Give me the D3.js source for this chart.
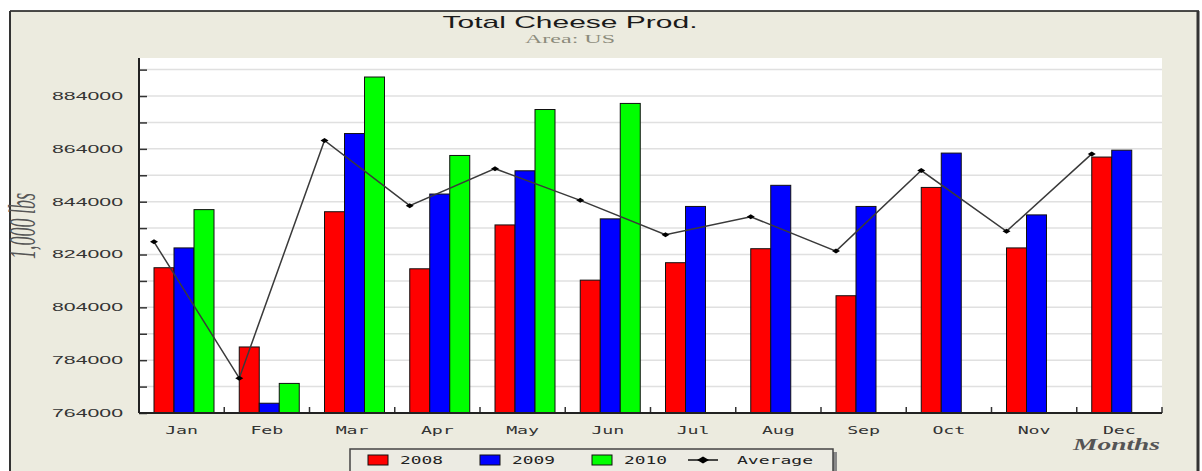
<!DOCTYPE html>
<html>
<head>
<meta charset="utf-8">
<script src="https://cdn.jsdelivr.net/npm/d3@7/dist/d3.min.js"></script>
<style>
  body { margin: 0; background: #fff; }
  #chart { width: 1202px; height: 471px; }
</style>
</head>
<body>
<div id="chart"></div>
<script>
var months = ["Jan", "Feb", "Mar", "Apr", "May", "Jun", "Jul", "Aug", "Sep", "Oct", "Nov", "Dec"];
var years = ["2008", "2009", "2010"];
var y2008 = [819000, 789000, 840200, 818600, 835200, 814300, 820900, 826200, 808400, 849400, 826500, 860900];
var y2009 = [826500, 767700, 869800, 846900, 855700, 837500, 842200, 850200, 842200, 862400, 839000, 863500];
var y2010 = [841000, 775200, 891200, 861500, 878900, 881200, null, null, null, null, null, null];
var average = [828800, 777200, 867200, 842500, 856500, 844500, 831500, 838300, 825300, 855800, 832800, 862100];
var yTicks = [764000, 774000, 784000, 794000, 804000, 814000, 824000, 834000, 844000, 854000, 864000, 874000, 884000, 894000];
var colors = {"2008": "#ff0000", "2009": "#0000ff", "2010": "#00ff00"};

var W = 1202, H = 471;
var margin = {top: 58, right: 40, bottom: 58, left: 139};
var width = 1162 - margin.left;
var height = 413 - margin.top;

var svg = d3.select("#chart").append("svg")
    .attr("width", W)
    .attr("height", H);

// beige frame
svg.append("rect")
    .attr("x", 10).attr("y", 11)
    .attr("width", 1188).attr("height", H)
    .attr("fill", "#ecebdf");
svg.append("line").attr("x1", 10).attr("x2", 1199).attr("y1", 11).attr("y2", 11)
    .attr("stroke", "#111").attr("stroke-width", 1.5);
svg.append("line").attr("x1", 10).attr("x2", 10).attr("y1", 11).attr("y2", H)
    .attr("stroke", "#333").attr("stroke-width", 2);
svg.append("line").attr("x1", 1198).attr("x2", 1198).attr("y1", 11).attr("y2", H)
    .attr("stroke", "#333").attr("stroke-width", 3);

// titles
svg.append("text")
    .attr("x", 570).attr("y", 28)
    .attr("text-anchor", "middle")
    .attr("textLength", 255).attr("lengthAdjust", "spacingAndGlyphs")
    .style("font-family", "Liberation Sans, Arial, sans-serif")
    .style("font-size", "17px")
    .attr("fill", "#1a1a1a")
    .text("Total Cheese Prod.");
svg.append("text")
    .attr("x", 570).attr("y", 43)
    .attr("text-anchor", "middle")
    .attr("textLength", 90).attr("lengthAdjust", "spacingAndGlyphs")
    .style("font-family", "Liberation Serif, serif")
    .style("font-size", "12px")
    .attr("fill", "#8c8c7c")
    .text("Area: US");

var x = d3.scaleBand()
    .domain(months)
    .range([0, width]);
var x1 = d3.scaleBand()
    .domain(years)
    .range([15, 75]);
var y = d3.scaleLinear()
    .domain([764000, 898400])
    .range([height, 0]);

var g = svg.append("g")
    .attr("transform", "translate(" + margin.left + "," + margin.top + ")");

g.append("rect")
    .attr("width", width).attr("height", height)
    .attr("fill", "#fff");

// grid
g.selectAll(".grid")
    .data(yTicks.slice(1))
    .enter().append("line")
    .attr("class", "grid")
    .attr("x1", 0).attr("x2", width)
    .attr("y1", function(d) { return y(d); })
    .attr("y2", function(d) { return y(d); })
    .attr("stroke", "#e0e0e0")
    .attr("stroke-width", 1.5);

// bars
var series = [
  {year: "2008", values: y2008},
  {year: "2009", values: y2009},
  {year: "2010", values: y2010}
];
series.forEach(function(s) {
  g.selectAll(".bar-" + s.year)
      .data(s.values.map(function(v, i) { return {m: months[i], v: v}; })
                    .filter(function(d) { return d.v != null; }))
      .enter().append("rect")
      .attr("class", "bar-" + s.year)
      .attr("x", function(d) { return x(d.m) + x1(s.year); })
      .attr("y", function(d) { return y(d.v); })
      .attr("width", x1.bandwidth())
      .attr("height", function(d) { return height - y(d.v); })
      .attr("fill", colors[s.year])
      .attr("stroke", "#111")
      .attr("stroke-width", 1);
});

// average line
var avgData = average.map(function(v, i) { return {m: months[i], v: v}; });
var line = d3.line()
    .x(function(d) { return x(d.m) + x1("2008"); })
    .y(function(d) { return y(d.v); });
g.append("path")
    .datum(avgData)
    .attr("d", line)
    .attr("fill", "none")
    .attr("stroke", "#3a3a3a")
    .attr("stroke-width", 1.5);
g.selectAll(".avg-pt")
    .data(avgData)
    .enter().append("path")
    .attr("class", "avg-pt")
    .attr("transform", function(d) { return "translate(" + (x(d.m) + x1("2008")) + "," + y(d.v) + ")"; })
    .attr("d", "M-4,0L0,-2.5L4,0L0,2.5Z")
    .attr("fill", "#000");

// y axis
var axisY = d3.axisRight(y)
    .tickValues(yTicks)
    .tickSize(8)
    .tickFormat("");
g.append("g")
    .attr("class", "axis axis--y")
    .call(axisY)
    .call(function(a) {
      a.select(".domain").remove();
      a.selectAll("line").attr("stroke", "#333").attr("stroke-width", 1.5);
    });
g.append("line")
    .attr("x1", 0).attr("x2", 0).attr("y1", 0).attr("y2", height)
    .attr("stroke", "#222").attr("stroke-width", 2);
g.selectAll(".ylab")
    .data(yTicks.filter(function(d, i) { return i % 2 === 0; }))
    .enter().append("text")
    .attr("class", "ylab")
    .attr("x", -16)
    .attr("y", function(d) { return y(d); })
    .attr("dy", "0.36em")
    .attr("text-anchor", "end")
    .attr("textLength", 71).attr("lengthAdjust", "spacingAndGlyphs")
    .style("font-family", "Liberation Sans, Arial, sans-serif")
    .style("font-size", "11px")
    .attr("fill", "#333")
    .text(function(d) { return d; });

// x axis
var bounds = months.slice(1).map(function(m) { return x(m); }).concat([width]);
g.selectAll(".xtick")
    .data(bounds)
    .enter().append("line")
    .attr("class", "xtick")
    .attr("x1", function(d) { return d; }).attr("x2", function(d) { return d; })
    .attr("y1", height).attr("y2", height - 6)
    .attr("stroke", "#333").attr("stroke-width", 1.5);
g.append("line")
    .attr("x1", 0).attr("x2", width).attr("y1", height).attr("y2", height)
    .attr("stroke", "#222").attr("stroke-width", 2);
g.selectAll(".xlab")
    .data(months)
    .enter().append("text")
    .attr("class", "xlab")
    .attr("x", function(d) { return x(d) + x.bandwidth() / 2; })
    .attr("y", height + 21)
    .attr("text-anchor", "middle")
    .attr("textLength", 33).attr("lengthAdjust", "spacingAndGlyphs")
    .style("font-family", "DejaVu Sans Mono, monospace")
    .style("font-size", "11px")
    .attr("fill", "#333")
    .text(function(d) { return d; });

// axis titles
svg.append("text")
    .attr("transform", "translate(35,226) scale(2.1,1) rotate(-90)")
    .attr("text-anchor", "middle")
    .style("font-family", "Liberation Serif, serif")
    .style("font-style", "italic")
    .style("font-size", "18px")
    .attr("fill", "#555")
    .text("1,000 lbs");
svg.append("text")
    .attr("x", 1160).attr("y", 450)
    .attr("text-anchor", "end")
    .attr("textLength", 87).attr("lengthAdjust", "spacingAndGlyphs")
    .style("font-family", "Liberation Serif, serif")
    .style("font-style", "italic")
    .style("font-weight", "bold")
    .style("font-size", "16px")
    .attr("fill", "#555")
    .text("Months");

// legend
var leg = svg.append("g");
leg.append("rect")
    .attr("x", 353).attr("y", 452).attr("width", 484).attr("height", 30)
    .attr("fill", "#888");
leg.append("rect")
    .attr("x", 350).attr("y", 449).attr("width", 483).attr("height", 30)
    .attr("fill", "#ecebe3")
    .attr("stroke", "#444").attr("stroke-width", 1.5);
var legItems = [
  {label: "2008", color: colors["2008"], sx: 368, tx: 400},
  {label: "2009", color: colors["2009"], sx: 480, tx: 512},
  {label: "2010", color: colors["2010"], sx: 592, tx: 624}
];
legItems.forEach(function(d) {
  leg.append("rect")
      .attr("x", d.sx).attr("y", 455).attr("width", 20).attr("height", 10)
      .attr("fill", d.color).attr("stroke", "#111").attr("stroke-width", 1);
  leg.append("text")
      .attr("x", d.tx).attr("y", 464)
      .attr("textLength", 43).attr("lengthAdjust", "spacingAndGlyphs")
      .style("font-family", "DejaVu Sans Mono, monospace")
      .style("font-size", "11px")
      .attr("fill", "#222")
      .text(d.label);
});
leg.append("line")
    .attr("x1", 688).attr("x2", 718).attr("y1", 460).attr("y2", 460)
    .attr("stroke", "#111").attr("stroke-width", 1.5);
leg.append("path")
    .attr("transform", "translate(703,460)")
    .attr("d", "M-6,0L0,-3.5L6,0L0,3.5Z")
    .attr("fill", "#000");
leg.append("text")
    .attr("x", 737).attr("y", 464)
    .attr("textLength", 76).attr("lengthAdjust", "spacingAndGlyphs")
    .style("font-family", "DejaVu Sans Mono, monospace")
    .style("font-size", "11px")
    .attr("fill", "#222")
    .text("Average");
</script>
</body>
</html>
